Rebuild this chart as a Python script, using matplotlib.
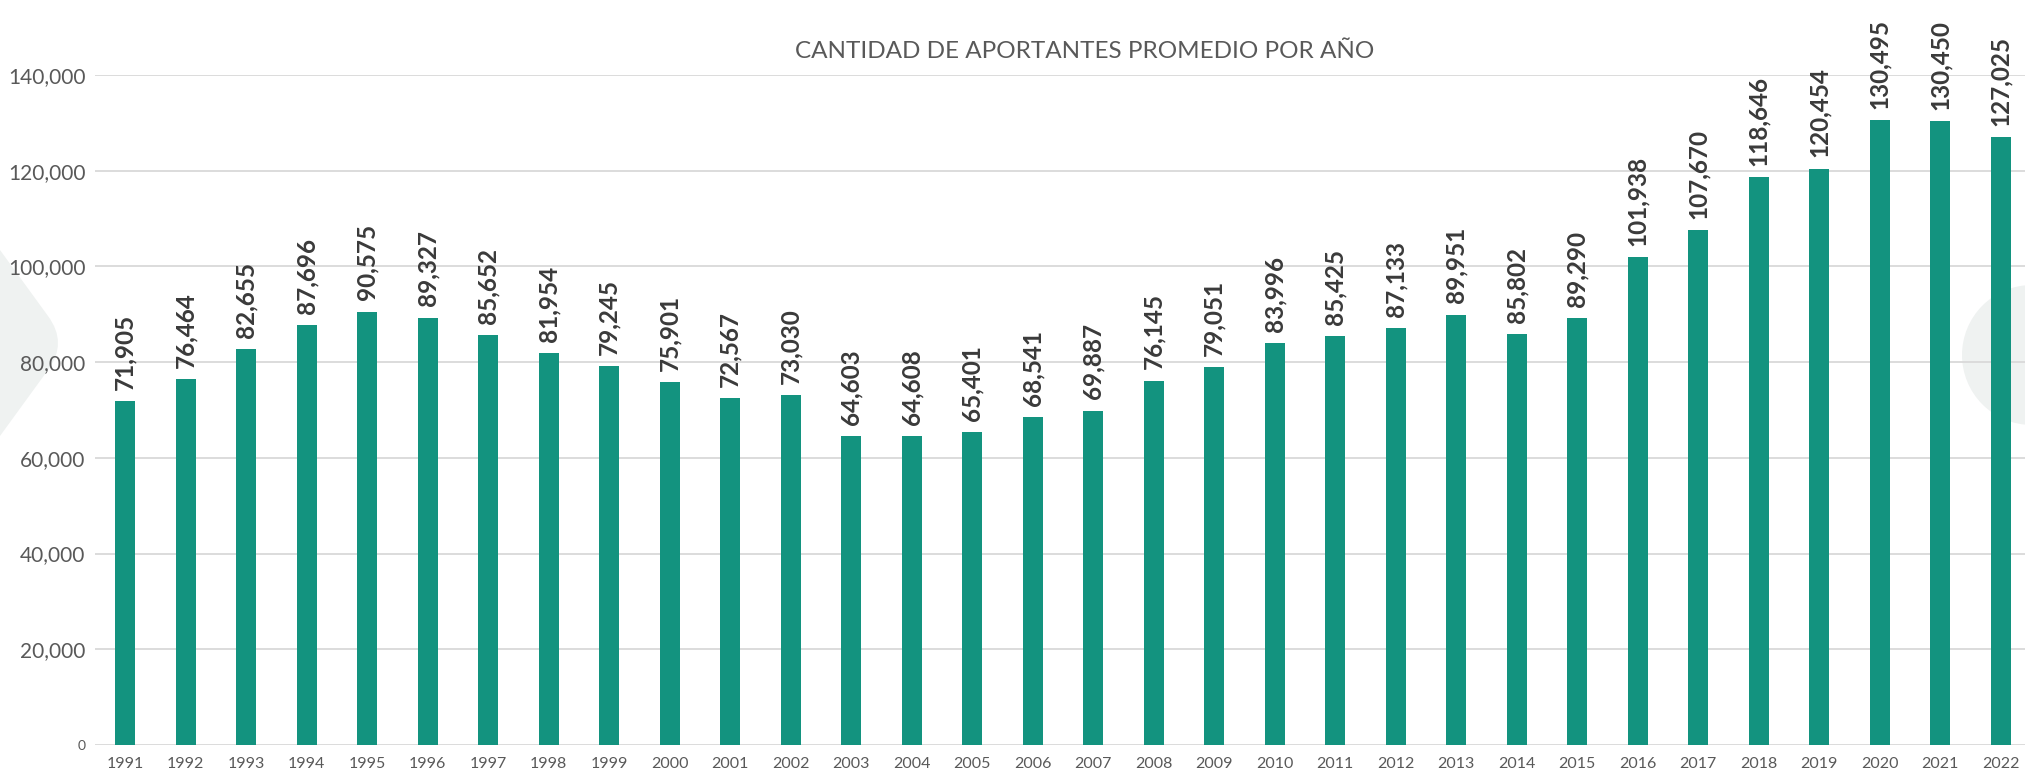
import matplotlib
matplotlib.use('Agg')
import matplotlib.pyplot as plt
import numpy as np
from matplotlib.path import Path
from matplotlib.patches import PathPatch, Ellipse

years = [str(y) for y in range(1991, 2023)]
aportantes = [71905, 76464, 82655, 87696, 90575, 89327, 85652, 81954, 79245, 75901,
              72567, 73030, 64603, 64608, 65401, 68541, 69887, 76145, 79051, 83996,
              85425, 87133, 89951, 85802, 89290, 101938, 107670, 118646, 120454, 130495,
              130450, 127025]
yticks = [0, 20000, 40000, 60000, 80000, 100000, 120000, 140000]
title = "CANTIDAD DE APORTANTES PROMEDIO POR AÑO"

W, H = 2025, 770
plt.rcParams['font.family'] = ['Lato', 'DejaVu Sans']

fig = plt.figure(figsize=(W / 100, H / 100), dpi=100)
fig.patch.set_facecolor('white')

def fpx(x, y):
    # pixel coords (from top-left) to figure fraction
    return (x / W, 1 - y / H)

# light decorative shapes behind the chart
shape_col = '#eff2f1'
verts = [fpx(0, 250), fpx(48, 316), fpx(68, 343), fpx(48, 370), fpx(0, 436), fpx(0, 250)]
codes = [Path.MOVETO, Path.LINETO, Path.CURVE3, Path.CURVE3, Path.LINETO, Path.CLOSEPOLY]
fig.patches.append(PathPatch(Path(verts, codes), facecolor=shape_col, edgecolor='none',
                             transform=fig.transFigure, zorder=-5))
cx, cy = fpx(2032, 355)
fig.patches.append(Ellipse((cx, cy), 140 / W, 140 / H, facecolor=shape_col, edgecolor='none',
                           transform=fig.transFigure, zorder=-5))

ax = fig.add_axes([95 / W, 25 / H, (W - 95) / W, 670 / H])
ax.patch.set_alpha(0)

x = np.arange(len(years))
bars = ax.bar(x, aportantes, width=0.33, color='#13937f', zorder=3)

for xi, v in zip(x, aportantes):
    ax.annotate(f"{v:,}", (xi, v), xytext=(0, 8), textcoords='offset points',
                rotation=90, ha='center', va='bottom', fontsize=17.5,
                fontweight='bold', color='#3a3a3a', annotation_clip=False)

ax.set_xlim(-0.5, 31.4)
ax.set_ylim(0, 140000)
ax.set_yticks(yticks)
ax.set_yticklabels([f"{t:,}" for t in yticks])
for lbl in ax.get_yticklabels():
    lbl.set_color('#595959')
    lbl.set_fontsize(15)
ax.get_yticklabels()[0].set_fontsize(10)
ax.set_xticks(x)
ax.set_xticklabels(years, fontsize=11.5, color='#595959')
ax.tick_params(axis='both', length=0)
ax.tick_params(axis='y', pad=7)
ax.tick_params(axis='x', pad=9)

ax.grid(axis='y', color='#d9d9d9', linewidth=1.3, zorder=1)
for s in ax.spines.values():
    s.set_visible(False)

fig.text(1085 / W, 1 - 51 / H, title, ha='center', va='center', fontsize=17.5, color='#595959')

plt.savefig("out.png", dpi=100)
